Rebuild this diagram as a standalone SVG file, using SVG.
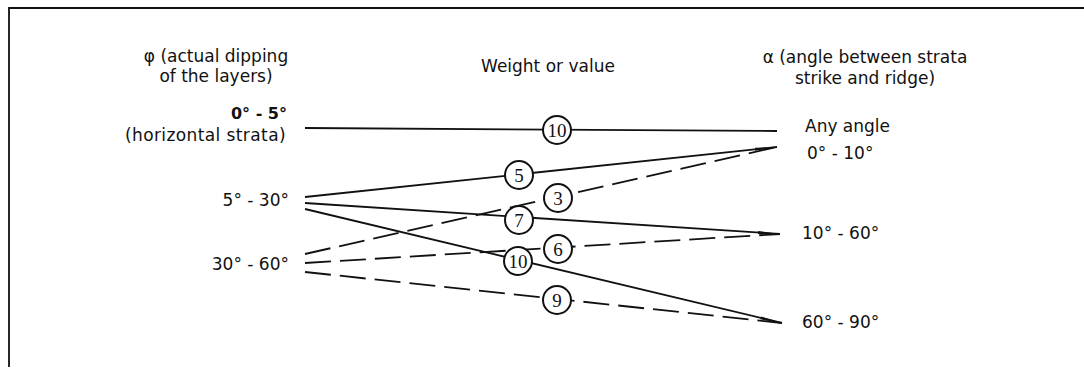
<svg xmlns="http://www.w3.org/2000/svg" width="1084" height="369" viewBox="0 0 1084 369">
<style>
.t{font-family:"DejaVu Sans",sans-serif;font-size:17px;fill:#111}
.b{font-weight:bold;font-size:16px}
.ln{stroke:#111;stroke-width:1.8;fill:none}
.ds{stroke-dasharray:26 9}
.c circle{fill:#fff;stroke:#111;stroke-width:2}
.c text{font-family:"Liberation Serif",serif;font-size:19px;fill:#111;text-anchor:middle}
</style>
<defs>
<marker id="tip" markerUnits="userSpaceOnUse" markerWidth="24" markerHeight="8" refX="22" refY="4" orient="auto">
<path d="M0,2.5 L22,4 L0,5.5 z" fill="#111"/>
</marker>
</defs>
<rect width="1084" height="369" fill="#fff"/>
<path d="M9,367 L9,8 L1084,8" fill="none" stroke="#111" stroke-width="1.8"/>

<g id="labels-left">
<text class="t" x="216" y="62" text-anchor="middle">φ (actual dipping</text>
<text class="t" x="216" y="82" text-anchor="middle">of the layers)</text>
</g>
<g id="label-mid"><text class="t" x="548" y="72" text-anchor="middle">Weight or value</text></g>
<g id="labels-right">
<text class="t" x="865" y="63" text-anchor="middle">α (angle between strata</text>
<text class="t" x="865" y="84" text-anchor="middle">strike and ridge)</text>
</g>

<g id="phi-0-5"><text class="t b" x="287" y="119" text-anchor="end">0° - 5°</text>
<text class="t" x="286" y="141" text-anchor="end" letter-spacing="0.4">(horizontal strata)</text></g>
<g id="phi-5-30"><text class="t" x="289" y="206" text-anchor="end">5° - 30°</text></g>
<g id="phi-30-60"><text class="t" x="289" y="270" text-anchor="end">30° - 60°</text></g>

<g id="alpha-any"><text class="t" x="805" y="132">Any angle</text></g>
<g id="alpha-0-10"><text class="t" x="807" y="159">0° - 10°</text></g>
<g id="alpha-10-60"><text class="t" x="802" y="239">10° - 60°</text></g>
<g id="alpha-60-90"><text class="t" x="802" y="328">60° - 90°</text></g>

<g id="connectors">
<line class="ln" x1="305" y1="128" x2="777" y2="131"/>
<line class="ln" x1="305" y1="197" x2="777" y2="147" marker-end="url(#tip)"/>
<line class="ln" x1="305" y1="203" x2="780" y2="234" marker-end="url(#tip)"/>
<line class="ln" x1="305" y1="209" x2="782" y2="323" marker-end="url(#tip)"/>
<line class="ln ds" x1="305" y1="254" x2="777" y2="147"/>
<line class="ln ds" x1="305" y1="263" x2="780" y2="234"/>
<line class="ln ds" x1="305" y1="272" x2="782" y2="323"/>
</g>

<g id="w10a" class="c"><circle cx="557" cy="130" r="14"/><text x="557" y="136.5">10</text></g>
<g id="w5" class="c"><circle cx="519" cy="175" r="14"/><text x="519" y="181.5">5</text></g>
<g id="w3" class="c"><circle cx="558" cy="198" r="14"/><text x="558" y="204.5">3</text></g>
<g id="w7" class="c"><circle cx="519" cy="220" r="14"/><text x="519" y="226.5">7</text></g>
<g id="w6" class="c"><circle cx="558" cy="249" r="14"/><text x="558" y="255.5">6</text></g>
<g id="w10b" class="c"><circle cx="518" cy="261" r="14"/><text x="518" y="267.5">10</text></g>
<g id="w9" class="c"><circle cx="557" cy="300" r="14"/><text x="557" y="306.5">9</text></g>
</svg>
